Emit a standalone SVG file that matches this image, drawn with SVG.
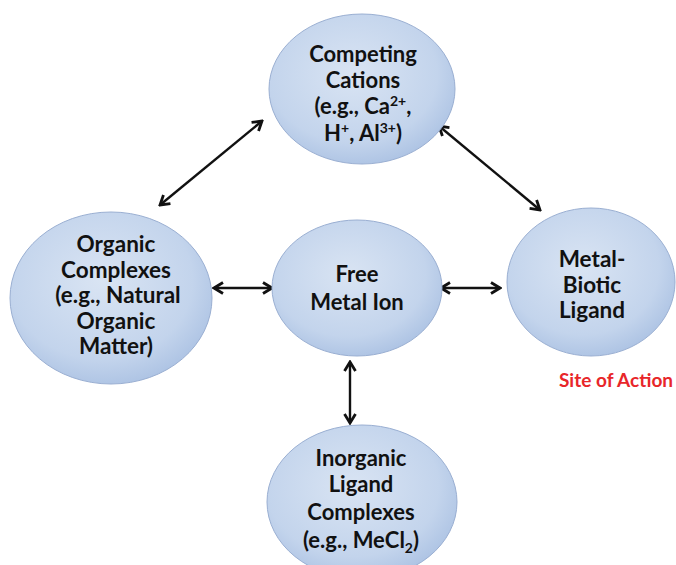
<svg xmlns="http://www.w3.org/2000/svg" width="676" height="565" viewBox="0 0 676 565">
<defs>
<radialGradient id="g" cx="0.45" cy="0.4" r="0.65">
<stop offset="0" stop-color="#d9e4f3"/>
<stop offset="0.7" stop-color="#c3d4ec"/>
<stop offset="1" stop-color="#a9c0e2"/>
</radialGradient>
<marker id="ah" viewBox="0 0 14 14" refX="12" refY="7" markerWidth="14" markerHeight="14" markerUnits="userSpaceOnUse" orient="auto-start-reverse">
<path d="M3,1.5 L12,7 L3,12.5" fill="none" stroke="#111" stroke-width="2.8" stroke-linejoin="miter"/>
</marker>
</defs>
<style>
.n{fill:url(#g);stroke:#9aafd2;stroke-width:1}
.t{font-family:Lato,"Liberation Sans",sans-serif;font-weight:bold;fill:#111;text-anchor:middle}
.c{stroke:#111;stroke-width:2.4;fill:none;marker-start:url(#ah);marker-end:url(#ah)}
.r{font-family:Lato,"Liberation Sans",sans-serif;font-weight:bold;fill:#e8262a;text-anchor:middle}
</style>
<rect width="676" height="565" fill="#ffffff"/>
<g id="connectors">
<line class="c" x1="160" y1="205" x2="262" y2="121"/>
<line class="c" x1="439" y1="126" x2="540" y2="210"/>
<line class="c" x1="214" y1="288" x2="272" y2="288"/>
<line class="c" x1="441" y1="288" x2="500" y2="288"/>
<line class="c" x1="350" y1="362" x2="350" y2="423"/>
</g>
<g id="competing-cations">
<ellipse class="n" cx="362" cy="89" rx="93" ry="75"/>
<text class="t" font-size="22" x="363" y="62">Competing</text>
<text class="t" font-size="22" x="363" y="88">Cations</text>
<text class="t" font-size="22" x="363" y="114">(e.g., Ca<tspan font-size="14" dy="-8">2+</tspan><tspan dy="8">,</tspan></text>
<text class="t" font-size="22" x="363" y="141">H<tspan font-size="14" dy="-8">+</tspan><tspan dy="8">, Al</tspan><tspan font-size="14" dy="-8">3+</tspan><tspan dy="8">)</tspan></text>
</g>
<g id="organic-complexes">
<ellipse class="n" cx="111" cy="298" rx="101" ry="86"/>
<text class="t" font-size="22.5" x="116" y="252">Organic</text>
<text class="t" font-size="22.5" x="116" y="277.5">Complexes</text>
<text class="t" font-size="22.5" x="118" y="303">(e.g., Natural</text>
<text class="t" font-size="22.5" x="116" y="328.5">Organic</text>
<text class="t" font-size="22.5" x="116" y="354">Matter)</text>
</g>
<g id="free-metal-ion">
<ellipse class="n" cx="357" cy="288" rx="85" ry="68"/>
<text class="t" font-size="22" x="357" y="282">Free</text>
<text class="t" font-size="22" x="357" y="310">Metal Ion</text>
</g>
<g id="metal-biotic-ligand">
<ellipse class="n" cx="591" cy="282" rx="84" ry="74"/>
<text class="t" font-size="22.5" x="592" y="267">Metal-</text>
<text class="t" font-size="22.5" x="592" y="292.5">Biotic</text>
<text class="t" font-size="22.5" x="592" y="318">Ligand</text>
</g>
<text class="r" font-size="19" x="616" y="387">Site of Action</text>
<g id="inorganic-ligand-complexes">
<ellipse class="n" cx="362" cy="502" rx="95" ry="77"/>
<text class="t" font-size="22" x="361" y="466">Inorganic</text>
<text class="t" font-size="22" x="361" y="492">Ligand</text>
<text class="t" font-size="22" x="361" y="520">Complexes</text>
<text class="t" font-size="22" x="361" y="548">(e.g., MeCl<tspan font-size="14" dy="5">2</tspan><tspan dy="-5">)</tspan></text>
</g>
</svg>
